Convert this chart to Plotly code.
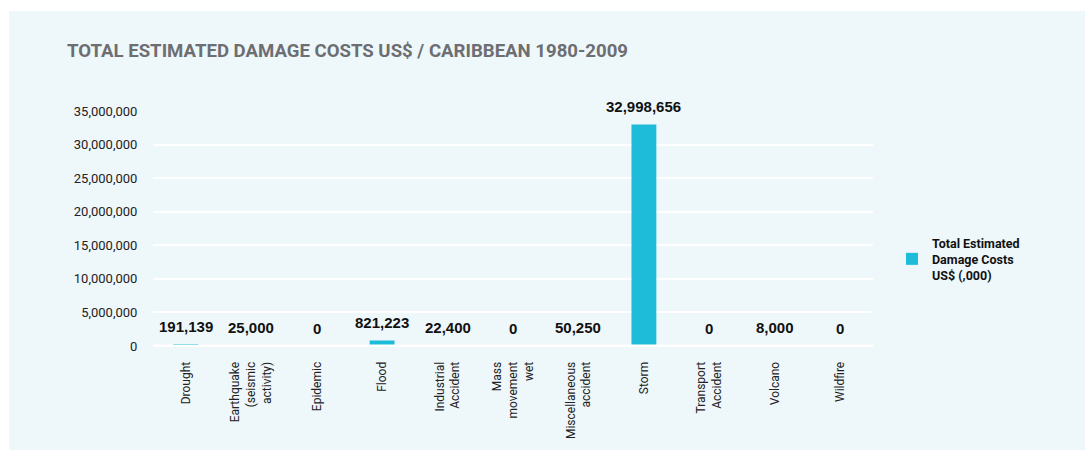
import plotly.graph_objects as go

categories = ["Drought", "Earthquake<br>(seismic<br>activity)", "Epidemic", "Flood",
              "Industrial<br>Accident", "Mass<br>movement<br>wet", "Miscellaneous<br>accident",
              "Storm", "Transport<br>Accident", "Volcano", "Wildfire"]
values = [191139, 25000, 0, 821223, 22400, 0, 50250, 32998656, 0, 8000, 0]
tick_vals = [0, 5000000, 10000000, 15000000, 20000000, 25000000, 30000000, 35000000]
tick_text = ["0", "5,000,000", "10,000,000", "15,000,000", "20,000,000", "25,000,000", "30,000,000", "35,000,000"]
series_name = "Total Estimated<br>Damage Costs<br>US$ (,000)"
title = "TOTAL ESTIMATED DAMAGE COSTS US$ / CARIBBEAN 1980-2009"

COND = "Roboto, Arial"
BAR = "#1fbcd9"
BG = "#eef7fa"

fig = go.Figure()
fig.add_trace(go.Bar(
    x=categories, y=values,
    name="<br>".join(f"<b>{s}</b>" for s in series_name.split("<br>")),
    marker=dict(color=BAR, line=dict(width=0)),
    showlegend=True, width=0.38, cliponaxis=False,
))

for c, v in zip(categories, values):
    fig.add_annotation(x=c, y=v, text=f"<b>{v:,}</b>", showarrow=False,
                       yanchor="middle", yshift=18,
                       font=dict(family="Liberation Sans, Arial", size=15, color="#111111"))

fig.add_shape(type="rect", xref="paper", yref="paper", x0=-(153-9)/720, x1=(1085-153)/720 + 0.01,
              y0=-(450-346)/235 - 0.01, y1=(346-11)/235, fillcolor=BG, line=dict(width=0), layer="below")
# white baseline drawn over the bars
fig.add_shape(type="line", xref="paper", yref="y", x0=0, x1=1, y0=0, y1=0,
              line=dict(color="white", width=3), layer="above")

fig.update_layout(
    width=1085, height=450,
    margin=dict(l=153, r=212, t=111, b=104, pad=0),
    paper_bgcolor="white", plot_bgcolor="rgba(0,0,0,0)",
    title=dict(text=f"<b>{title}</b>", x=67/1085, xanchor="left", y=1-50/450, yanchor="middle",
               font=dict(family=COND, size=18.6, color="#6d6e71")),
    font=dict(family=COND, color="#222222"),
    xaxis=dict(tickangle=-90, tickfont=dict(family=COND, size=12, color="#222222"),
               showgrid=False, showline=False, ticks="outside", ticklen=10,
               tickcolor="rgba(0,0,0,0)", zeroline=False),
    yaxis=dict(range=[0, 35000000], tickvals=tick_vals, ticktext=tick_text,
               tickfont=dict(family=COND, size=13, color="#222222"),
               showgrid=True, gridcolor="white", gridwidth=2, zeroline=True, zerolinecolor="white",
               zerolinewidth=2, showline=False, ticks="outside", ticklen=12, tickcolor="rgba(0,0,0,0)"),
    legend=dict(x=(892-153)/720, xanchor="left", y=(346-228)/235, yanchor="top",
                bgcolor="rgba(0,0,0,0)", tracegroupgap=0,
                font=dict(family=COND, size=12.5, color="#111111")),
)

fig.write_html("out.html")
